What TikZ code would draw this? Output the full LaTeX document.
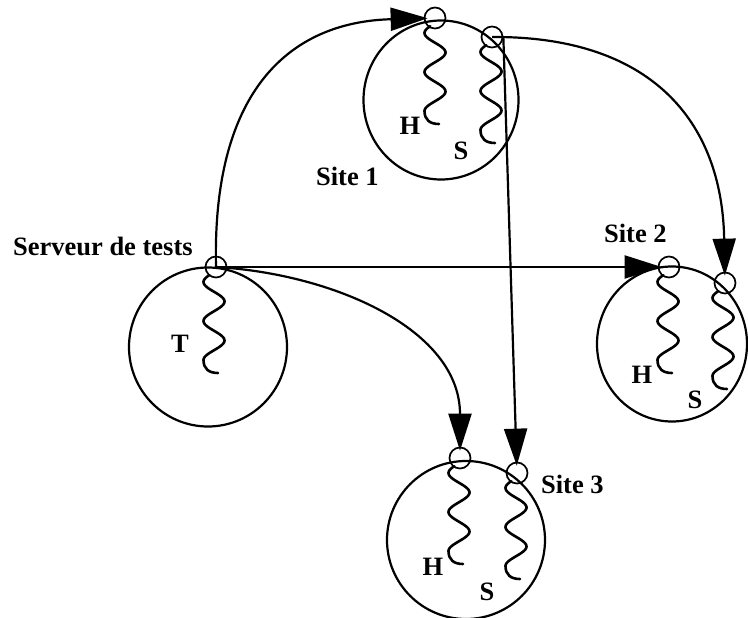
\documentclass[tikz,border=0pt]{standalone}
\usepackage{fontspec}
\setmainfont{Liberation Serif}
\usetikzlibrary{arrows.meta,shapes.geometric}
\newcommand\squig[2]{%
 \draw[squigline] plot[domain=-0.35:4,samples=80,smooth] ({#1-10.5*cos(\x*180)},{#2+15+\x*19.5});
 \draw[squigline] (#1-10.5,#2+93) .. controls (#1-10.5,#2+102) and (#1-5,#2+106) .. (#1+4,#2+106);}
\begin{document}
\begin{tikzpicture}[x=1pt,y=-1pt,line width=2.2pt,
 big/.style={ellipse,draw,inner sep=0pt,line width=2.2pt},
 port/.style={circle,draw,minimum size=21pt,inner sep=0pt,line width=1.7pt},
 lbl/.style={font=\fontsize{26.5}{30}\selectfont\bfseries,inner sep=0pt},
 arr/.style={-{Triangle[length=37pt,width=23pt]},line width=2.2pt,shorten >=-4pt},
 squigline/.style={line width=2.6pt,line cap=round}]
\useasboundingbox[fill=white] (0,0) rectangle (748,618);
% big circles
\node[big,minimum width=155pt,minimum height=159pt] (c1) at (441,100) {};
\node[big,minimum width=158pt,minimum height=159pt] (c0) at (208,347) {};
\node[big,minimum width=150pt,minimum height=155pt] (c2) at (672,344) {};
\node[big,minimum width=158pt,minimum height=158pt] (c3) at (466,540) {};
% ports
\node[port] (s1h) at (435,18) {};
\node[port] (s1s) at (492,37) {};
\node[port] (tp) at (216,267) {};
\node[port] (s2h) at (669,267) {};
\node[port] (s2s) at (725,283) {};
\node[port] (s3h) at (460,458) {};
\node[port] (s3s) at (517,473) {};
% squiggles
\squig{435}{18}
\squig{491}{37}
\squig{214}{267}
\squig{668}{267}
\squig{723}{283}
\squig{459}{458}
\squig{516}{473}
% labels
\node[lbl,anchor=base west] (lserv) at (12,255) {Serveur de tests};
\node[lbl,anchor=base west] (lsite1) at (315,185) {Site 1};
\node[lbl,anchor=base west] (lsite2) at (603,242) {Site 2};
\node[lbl,anchor=base west] (lsite3) at (540,493) {Site 3};
\node[lbl,anchor=base] (lt) at (180,352) {T};
\node[lbl,anchor=base] (l1h) at (410,135) {H};
\node[lbl,anchor=base] (l1s) at (461,160) {S};
\node[lbl,anchor=base] (l2h) at (642,383) {H};
\node[lbl,anchor=base] (l2s) at (695,408) {S};
\node[lbl,anchor=base] (l3h) at (433,575) {H};
\node[lbl,anchor=base] (l3s) at (487,600) {S};
% connectors
\draw[arr] (tp.center) .. controls (212,90) and (290,22) .. (s1h);
\draw[arr] (tp.center) -- (s2h);
\draw[arr] (tp.center) .. controls (335,274) and (460,330) .. (s3h);
\draw[arr] (s1s.east) -- (s3s);
\draw[arr] (s1s.center) .. controls (650,36) and (722,120) .. (s2s);
\end{tikzpicture}
\end{document}
